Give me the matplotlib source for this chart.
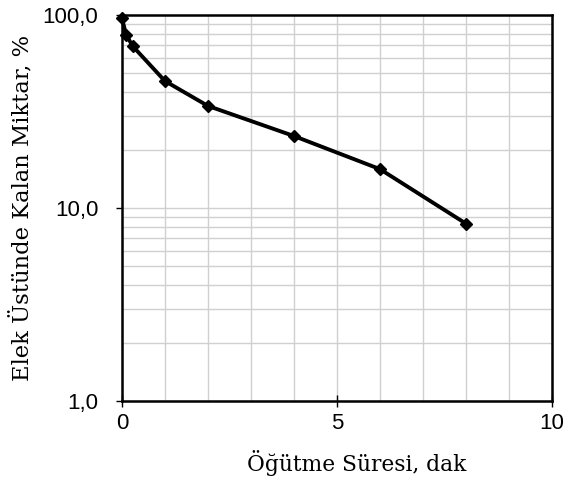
import matplotlib.pyplot as plt
from matplotlib.ticker import FixedLocator, FuncFormatter, NullFormatter
import numpy as np

# Öğütme süresi (dak) ve elek üstünde kalan miktar (%)
sure = [0, 0.1, 0.25, 1, 2, 4, 6, 8]
kalan = [96, 79, 69, 45.5, 33.8, 23.6, 15.9, 8.3]

fig = plt.figure(figsize=(5.67, 4.92), dpi=100)
ax = fig.add_axes([0.215, 0.185, 0.7585, 0.7845])

ax.set_yscale("log")
ax.set_xlim(0, 10)
ax.set_ylim(1, 100)

# grid
ax.xaxis.set_minor_locator(FixedLocator(np.arange(1, 10)))
ax.set_xticks([0, 5, 10])
ax.set_yticks([1, 10, 100])
minors = [m * d for d in (1, 10) for m in range(2, 10)]
ax.yaxis.set_minor_locator(FixedLocator(minors))
ax.yaxis.set_minor_formatter(NullFormatter())
ax.yaxis.set_major_formatter(FuncFormatter(lambda v, p: f"{v:.1f}".replace(".", ",")))
ax.grid(True, which="both", color="#d0d0d0", linewidth=1)
ax.set_axisbelow(True)

ax.plot(sure, kalan, color="black", linewidth=2.8, marker="D", markersize=6.5,
        clip_on=False, zorder=5)

for s in ax.spines.values():
    s.set_linewidth(1.8)
    s.set_color("black")

ax.tick_params(axis="x", which="major", direction="inout", length=8, width=1,
               labelsize=16, pad=5, labelfontfamily="Liberation Sans")
ax.tick_params(axis="y", which="major", direction="out", length=4, width=1,
               labelsize=16, pad=13, labelfontfamily="Liberation Sans")
ax.tick_params(which="minor", length=0)

ax.set_xlabel("Öğütme Süresi, dak", fontsize=15.7, family="DejaVu Serif", va="top")
ax.xaxis.set_label_coords(0.545, -0.127)
ax.set_ylabel("Elek Üstünde Kalan Miktar, %", fontsize=16.3, family="DejaVu Serif")
ax.yaxis.set_label_coords(-0.205, 0.5)

fig.savefig("out.png", dpi=100)
